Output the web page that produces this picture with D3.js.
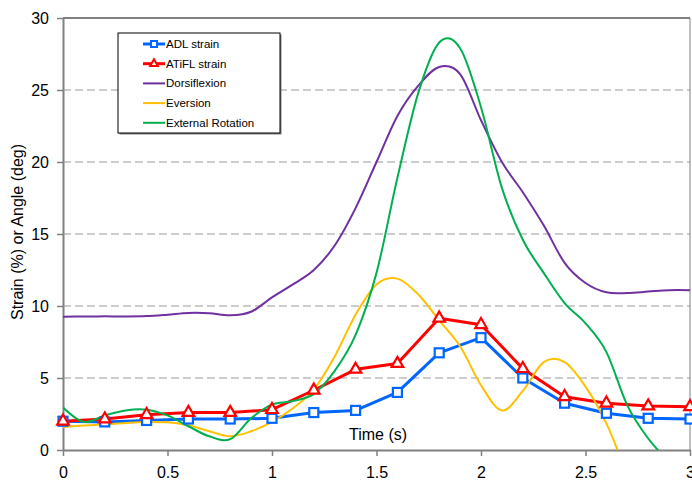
<!DOCTYPE html>
<html>
<head>
<meta charset="utf-8">
<script src="https://cdn.jsdelivr.net/npm/d3@7"></script>
<style>
  body { margin: 0; background: #fff; }
  svg { display: block; }
  text { font-family: Arial, "Liberation Sans", sans-serif; }
</style>
</head>
<body>
<svg></svg>
<script>
// strain readings, every 0.2 s
let strainTimes = [0, 0.2, 0.4, 0.6, 0.8, 1.0, 1.2, 1.4, 1.6, 1.8, 2.0, 2.2, 2.4, 2.6, 2.8, 3.0];
let adlStrain   = [2.0, 1.95, 2.05, 2.15, 2.15, 2.2, 2.6, 2.75, 4.0, 6.75, 7.8, 5.0, 3.25, 2.55, 2.2, 2.15];
let atiflStrain = [2.0, 2.15, 2.45, 2.6, 2.6, 2.8, 4.15, 5.6, 6.0, 9.15, 8.7, 5.65, 3.7, 3.25, 3.05, 3.0];

// joint angles, every 0.1 s
let angleTimes = [0, 0.1, 0.2, 0.3, 0.4, 0.5, 0.6, 0.7, 0.8, 0.9, 1.0, 1.1, 1.2, 1.3, 1.4, 1.5,
                  1.6, 1.7, 1.8, 1.9, 2.0, 2.1, 2.2, 2.3, 2.4, 2.5, 2.6, 2.7, 2.8, 2.9, 3.0];
let dorsiflexion = [9.25, 9.27, 9.28, 9.27, 9.3, 9.4, 9.52, 9.5, 9.35, 9.6, 10.6, 11.5, 12.5, 14.2, 16.8, 20.0,
                    23.2, 25.3, 26.6, 26.1, 22.9, 20.0, 17.9, 15.6, 13.0, 11.6, 10.95, 10.9, 11.0, 11.1, 11.1];
let eversion     = [1.6, 1.7, 1.78, 1.88, 1.95, 1.92, 1.72, 1.3, 0.95, 1.3, 1.95, 2.9, 4.2, 6.5, 9.4, 11.5,
                    11.9, 10.8, 9.0, 7.2, 4.5, 2.75, 4.1, 6.1, 6.1, 4.4, 1.85, -1.8];
let extRotation  = [2.95, 1.95, 2.4, 2.75, 2.8, 2.4, 1.65, 0.95, 0.75, 2.2, 3.15, 3.4, 3.9, 5.5, 8.0, 12.3,
                    18.9, 24.8, 28.3, 27.9, 23.8, 18.2, 14.6, 12.3, 10.2, 8.8, 6.8, 3.1, 0.8, -0.8];

let xTicks = [0, 0.5, 1, 1.5, 2, 2.5, 3];
let yTicks = [0, 5, 10, 15, 20, 25, 30];
let gridValues = [5, 10, 15, 20, 25];

let width = 692, height = 482;
let plotLeft = 63, plotRight = 690, plotTop = 18, plotBottom = 450;

var svg = d3.select("svg").attr("width", width).attr("height", height);

let xScale = d3.scaleLinear().domain([0, 3]).range([plotLeft, plotRight]);
let yScale = d3.scaleLinear().domain([0, 30]).range([plotBottom, plotTop]);

svg.append("clipPath").attr("id", "plot")
   .append("rect").attr("x", plotLeft).attr("y", plotTop)
   .attr("width", plotRight - plotLeft).attr("height", plotBottom - plotTop);

// dashed gridlines
svg.selectAll(".grid").data(gridValues).enter()
   .append("line")
   .attr("x1", plotLeft).attr("x2", plotRight)
   .attr("y1", d => yScale(d)).attr("y2", d => yScale(d))
   .attr("stroke", "#999").attr("stroke-width", 1.2)
   .attr("stroke-dasharray", "8,4");

// plot area frame (top and right)
svg.append("line").attr("x1", plotLeft).attr("x2", plotRight).attr("y1", plotTop).attr("y2", plotTop)
   .attr("stroke", "#000").attr("stroke-width", 1);
svg.append("line").attr("x1", plotRight).attr("x2", plotRight).attr("y1", plotTop).attr("y2", plotBottom)
   .attr("stroke", "#808080").attr("stroke-width", 1);

// axes
let yAxis = d3.axisLeft(yScale).tickValues(yTicks).tickSize(6).tickSizeOuter(0).tickPadding(8);
let gy = svg.append("g").attr("transform", "translate(" + plotLeft + ",0)").call(yAxis);

let xAxis = d3.axisBottom(xScale).tickValues(xTicks).tickFormat(d3.format("~g"))
   .tickSize(6).tickSizeOuter(0).tickPadding(11);
let gx = svg.append("g").attr("transform", "translate(0," + plotBottom + ")").call(xAxis);

[gx, gy].forEach(g => {
  g.select(".domain").attr("stroke", "#808080").attr("stroke-width", 2);
  g.selectAll(".tick line").attr("stroke", "#808080").attr("stroke-width", 1.5);
  g.selectAll("text").attr("font-size", 16).attr("fill", "#000")
   .attr("font-family", "Arial, 'Liberation Sans', sans-serif");
});

// axis titles
svg.append("text")
   .attr("transform", "translate(17," + 232 + ") rotate(-90)")
   .attr("text-anchor", "middle").attr("dy", "0.35em")
   .attr("font-size", 16)
   .text("Strain (%) or Angle (deg)");

svg.append("text")
   .attr("x", 378).attr("y", 440)
   .attr("text-anchor", "middle")
   .attr("font-size", 16)
   .text("Time (s)");

// series
let straight = d3.line().x(d => xScale(d[0])).y(d => yScale(d[1]));
let smooth = d3.line().x(d => xScale(d[0])).y(d => yScale(d[1])).curve(d3.curveCardinal.tension(0));

let series = [
  { name: "ADL strain", times: strainTimes, values: adlStrain, color: "#0066ff", width: 3, marker: "square" },
  { name: "ATiFL strain", times: strainTimes, values: atiflStrain, color: "#ff0000", width: 3, marker: "triangle" },
  { name: "Dorsiflexion", times: angleTimes, values: dorsiflexion, color: "#7030a0", width: 2 },
  { name: "Eversion", times: angleTimes, values: eversion, color: "#ffc000", width: 2 },
  { name: "External Rotation", times: angleTimes, values: extRotation, color: "#00b050", width: 2 }
];

let lines = svg.append("g").attr("clip-path", "url(#plot)");

function drawMarkers(s, pts, g) {
  if (s.marker == "square") {
    g.selectAll("rect").data(pts).enter().append("rect")
     .attr("x", d => xScale(d[0]) - 4.5).attr("y", d => yScale(d[1]) - 4.5)
     .attr("width", 9).attr("height", 9)
     .attr("fill", "#fff").attr("stroke", s.color).attr("stroke-width", 2.2);
  } else if (s.marker == "triangle") {
    g.selectAll("path").data(pts).enter().append("path")
     .attr("d", d3.symbol(d3.symbolTriangle).size(58))
     .attr("transform", d => "translate(" + xScale(d[0]) + "," + yScale(d[1]) + ")")
     .attr("fill", "#fff").attr("stroke", s.color).attr("stroke-width", 2.2);
  }
}

series.forEach(s => {
  let pts = s.values.map((v, i) => [s.times[i], v]);
  lines.append("path")
       .datum(pts)
       .attr("fill", "none")
       .attr("stroke", s.color)
       .attr("stroke-width", s.width)
       .attr("stroke-linejoin", "round")
       .attr("d", s.marker ? straight : smooth);
  if (s.marker) drawMarkers(s, pts, svg.append("g"));
});

// legend
let legend = svg.append("g");
legend.append("rect").attr("x", 119.5).attr("y", 34.5).attr("width", 162).attr("height", 100)
      .attr("fill", "#808080");
legend.append("rect").attr("x", 118).attr("y", 33).attr("width", 162).attr("height", 100)
      .attr("fill", "#fff").attr("stroke", "#000").attr("stroke-width", 1);

let rows = legend.selectAll(".row").data(series).enter().append("g")
      .attr("transform", (d, i) => "translate(0," + (44 + i * 19.7) + ")");
rows.append("line").attr("x1", 143).attr("x2", 165).attr("y1", 0).attr("y2", 0)
    .attr("stroke", d => d.color).attr("stroke-width", d => d.width);
rows.each(function(d) {
  let r = d3.select(this);
  if (d.marker == "square") {
    r.append("rect").attr("x", 151).attr("y", -3).attr("width", 6).attr("height", 6)
     .attr("fill", "#fff").attr("stroke", d.color).attr("stroke-width", 2);
  } else if (d.marker == "triangle") {
    r.append("path").attr("d", d3.symbol(d3.symbolTriangle).size(26))
     .attr("transform", "translate(154,0)")
     .attr("fill", "#fff").attr("stroke", d.color).attr("stroke-width", 2);
  }
});
rows.append("text").attr("x", 166).attr("y", 0).attr("dy", "0.35em")
    .attr("font-size", 11.5).text(d => d.name);
</script>
</body>
</html>
